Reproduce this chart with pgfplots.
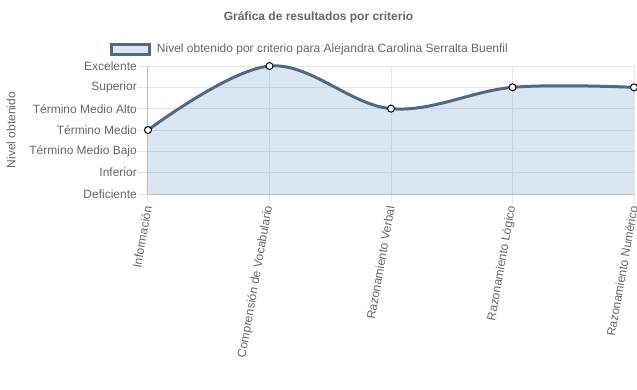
\documentclass[border=0pt]{standalone}
\usepackage{fontspec}
\setmainfont{Liberation Sans}
\usepackage{pgfplots}
\pgfplotsset{compat=1.18}
\definecolor{txt}{HTML}{666666}
\definecolor{gridc}{HTML}{E6E6E6}
\definecolor{axisc}{HTML}{BFBFBF}
\definecolor{linec}{HTML}{4D6B88}
\definecolor{fillc}{RGB}{70,135,195}
\definecolor{legfill}{HTML}{DAE7F3}
\begin{document}
\fontsize{12}{14}\selectfont
\begin{tikzpicture}
\path[use as bounding box] (0pt,0pt) rectangle (637pt,-389pt);
\node[text=txt, font=\bfseries] at (318.5pt,-17pt) {Gráfica de resultados por criterio};
\node[text=txt, rotate=90] at (11pt,-130pt) {Nivel obtenido};
\begin{axis}[
 at={(148pt,-194pt)}, anchor=south west, scale only axis, width=486pt, height=128pt,
 xmin=0, xmax=4, ymin=0, ymax=6,
 xtick={0,...,4},
 xticklabels={Información, Comprensión de Vocabulario, Razonamiento Verbal, Razonamiento Lógico, Razonamiento Numérico},
 ytick={0,...,6},
 yticklabels={Deficiente, Inferior, Término Medio Bajo, Término Medio, Término Medio Alto, Superior, Excelente},
 grid=major, major grid style={gridc, line width=1pt},
 tick align=outside, major tick length=10pt, tick style={gridc, line width=1pt},
 axis line style={axisc, line width=1pt},
 axis x line*=bottom, axis y line*=left,
 ticklabel style={text=txt, font=\fontsize{12}{14}\selectfont},
 xticklabel style={rotate=80, anchor=east, inner sep=2pt},
 yticklabel style={inner sep=1pt},
 clip=false,
 legend style={at={(-0.0782,1.1328)}, anchor=west, draw=none, fill=none, inner sep=0pt, outer sep=0pt,
   nodes={inner sep=0pt, text=txt}, /tikz/every odd column/.append style={column sep=6pt}},
 legend image code/.code={\draw[draw=linec, fill=legfill, fill opacity=1, line width=3pt] (0pt,-5pt) rectangle (38pt,5pt);},
]
\addplot[draw=none, fill=fillc, fill opacity=0.2, smooth, tension=0.6] coordinates {(0,3) (1,6) (2,4) (3,5) (4,5)} \closedcycle;
\addlegendentry{Nivel obtenido por criterio para Alejandra Carolina Serralta Buenfil}
\addplot[linec, line width=3pt, smooth, tension=0.6, mark=*, mark size=3.5pt, mark options={fill=white, draw=black, line width=1pt}, forget plot] coordinates {(0,3) (1,6) (2,4) (3,5) (4,5)};
\end{axis}
\end{tikzpicture}
\end{document}
